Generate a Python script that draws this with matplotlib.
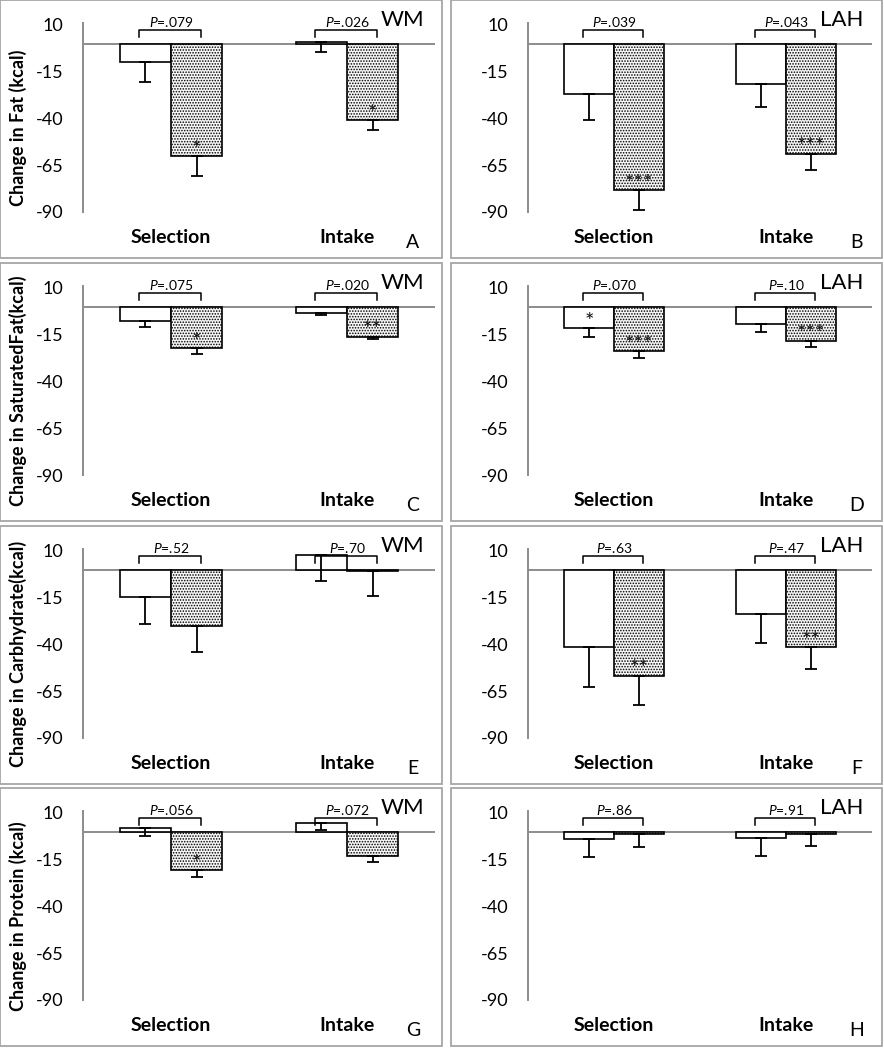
import numpy as np
import matplotlib
matplotlib.use("Agg")
import matplotlib.pyplot as plt
from matplotlib.patches import Rectangle

plt.rcParams['font.family'] = ['Lato', 'DejaVu Sans']
plt.rcParams['mathtext.fontset'] = 'custom'
plt.rcParams['mathtext.it'] = 'Lato:italic'
plt.rcParams['mathtext.rm'] = 'Lato'
plt.rcParams['hatch.linewidth'] = 0.75

categories = ['Selection', 'Intake']
groups = ['WM', 'LAH']
letters = ['A', 'B', 'C', 'D', 'E', 'F', 'G', 'H']
ylabels = ['Change in Fat (kcal)', 'Change in SaturatedFat(kcal)',
           'Change in Carbhydrate(kcal)', 'Change in Protein (kcal)']
yticks = [10, -15, -40, -65, -90]

# open bars / dotted bars, values and (downward) error, [Selection, Intake]
fat_wm_open = [-10.0, 1.1]
fat_wm_open_err = [10.5, 5.4]
fat_wm_dot = [-60.1, -41.0]
fat_wm_dot_err = [10.5, 5.2]
fat_lah_open = [-26.7, -21.4]
fat_lah_open_err = [13.9, 12.5]
fat_lah_dot = [-78.4, -58.8]
fat_lah_dot_err = [10.5, 8.7]

sat_wm_open = [-7.5, -3.4]
sat_wm_open_err = [3.2, 1.2]
sat_wm_dot = [-22.3, -16.0]
sat_wm_dot_err = [2.9, 1.3]
sat_lah_open = [-11.4, -9.3]
sat_lah_open_err = [5.0, 4.5]
sat_lah_dot = [-23.9, -18.2]
sat_lah_dot_err = [3.6, 3.4]

carb_wm_open = [-14.6, 7.7]
carb_wm_open_err = [14.3, 13.6]
carb_wm_dot = [-30.1, -0.9]
carb_wm_dot_err = [14.1, 13.2]
carb_lah_open = [-41.4, -23.5]
carb_lah_open_err = [21.2, 15.9]
carb_lah_dot = [-56.7, -41.4]
carb_lah_dot_err = [15.7, 11.5]

prot_wm_open = [1.8, 4.5]
prot_wm_open_err = [3.9, 3.6]
prot_wm_dot = [-20.7, -13.0]
prot_wm_dot_err = [3.4, 3.2]
prot_lah_open = [-3.9, -3.6]
prot_lah_open_err = [9.8, 9.2]
prot_lah_dot = [-1.2, -1.2]
prot_lah_dot_err = [7.2, 6.5]

p_values = [['.079', '.026'], ['.039', '.043'],
            ['.075', '.020'], ['.070', '.10'],
            ['.52', '.70'], ['.63', '.47'],
            ['.056', '.072'], ['.86', '.91']]
stars_open = [['', ''], ['', ''], ['', ''], ['*', ''],
              ['', ''], ['', ''], ['', ''], ['', '']]
stars_dot = [['*', '*'], ['***', '***'], ['*', '**'], ['***', '***'],
             ['', ''], ['**', '**'], ['*', ''], ['', '']]

panels = [
    (fat_wm_open, fat_wm_open_err, fat_wm_dot, fat_wm_dot_err),
    (fat_lah_open, fat_lah_open_err, fat_lah_dot, fat_lah_dot_err),
    (sat_wm_open, sat_wm_open_err, sat_wm_dot, sat_wm_dot_err),
    (sat_lah_open, sat_lah_open_err, sat_lah_dot, sat_lah_dot_err),
    (carb_wm_open, carb_wm_open_err, carb_wm_dot, carb_wm_dot_err),
    (carb_lah_open, carb_lah_open_err, carb_lah_dot, carb_lah_dot_err),
    (prot_wm_open, prot_wm_open_err, prot_wm_dot, prot_wm_dot_err),
    (prot_lah_open, prot_lah_open_err, prot_lah_dot, prot_lah_dot_err),
]

W, H = 884, 1050
fig = plt.figure(figsize=(W / 100, H / 100), dpi=100)


def px_rect(x, y, w, h):
    return [x / W, 1 - (y + h) / H, w / W, h / H]


col_x = [0, 451]
col_w = [442, 431]
row_y = [0, 263, 526, 788]
row_h = 258
ax_left = [83, 77]
ax_right = [435, 421]
ax_top, ax_bot = 23, 212
gray = '#8c8c8c'
bw = 0.29

for i, (o, oe, d, de) in enumerate(panels):
    r, c = i // 2, i % 2
    x0, y0 = col_x[c], row_y[r]
    fig.add_artist(Rectangle(px_rect(x0, y0, col_w[c], row_h)[:2], col_w[c] / W, row_h / H,
                             transform=fig.transFigure, fill=False, ec='#a6a6a6', lw=1.3))
    ax = fig.add_axes(px_rect(x0 + ax_left[c], y0 + ax_top, ax_right[c] - ax_left[c], ax_bot - ax_top))
    x = np.arange(len(categories))
    ax.axhline(0, color=gray, lw=1.4, zorder=1)
    ax.bar(x - bw / 2, o, width=bw, facecolor='white', edgecolor='black', lw=1.2, zorder=2)
    ax.bar(x + bw / 2, d, width=bw, facecolor='#f6f6f6', edgecolor='black', lw=1.2,
           hatch='......', zorder=2)
    zeros = [0, 0]
    ax.errorbar(x - bw / 2, o, yerr=[oe, zeros], fmt='none', ecolor='black',
                elinewidth=1.3, capsize=4, capthick=1.3, zorder=3)
    ax.errorbar(x + bw / 2, d, yerr=[de, zeros], fmt='none', ecolor='black',
                elinewidth=1.3, capsize=4, capthick=1.3, zorder=3)

    for k in range(len(categories)):
        ax.plot([k - 0.18, k - 0.18, k + 0.17, k + 0.17], [3.6, 7.3, 7.3, 3.6],
                color='black', lw=1.1, clip_on=False)
        ax.text(k, 11.8, r'$\it{P}$=' + p_values[i][k], ha='center', va='center',
                fontsize=10, clip_on=False)
        if stars_open[i][k]:
            ax.annotate(stars_open[i][k], (k - bw / 2, o[k]), xytext=(0, 4.5),
                        textcoords='offset points', ha='center', va='center',
                        fontsize=16, color='#111111', zorder=4)
        if stars_dot[i][k]:
            ax.annotate(stars_dot[i][k], (k + bw / 2, d[k]), xytext=(0, 4.5),
                        textcoords='offset points', ha='center', va='center',
                        fontsize=16, color='#111111', zorder=4)

    ax.set_xlim(-0.5, 1.5)
    ax.set_ylim(-90, 11)
    ax.set_yticks(yticks)
    ax.set_yticklabels([str(t) for t in yticks], fontsize=13)
    ax.set_xticks(x)
    ax.set_xticklabels(categories, fontsize=14, fontweight='bold')
    ax.tick_params(axis='y', length=0, pad=14)
    ax.tick_params(axis='x', length=0, pad=12)
    for s in ['top', 'right', 'bottom']:
        ax.spines[s].set_visible(False)
    ax.spines['left'].set_color(gray)
    ax.spines['left'].set_linewidth(1.4)
    ax.patch.set_visible(False)

    if c == 0:
        ax.set_ylabel(ylabels[r], fontsize=13, fontweight='bold')
        ax.yaxis.set_label_coords((27 - ax_left[c]) / (ax_right[c] - ax_left[c]),
                                  (ax_bot - 128) / (ax_bot - ax_top))

    gx = [402, 391][c]
    fig.text((x0 + gx) / W, 1 - (y0 + 20) / H, groups[c], fontsize=16,
             ha='center', va='center')
    lx = [413, 406][c]
    fig.text((x0 + lx) / W, 1 - (y0 + 242) / H, letters[i], fontsize=14,
             ha='center', va='center')

fig.savefig('out.png', dpi=100)
